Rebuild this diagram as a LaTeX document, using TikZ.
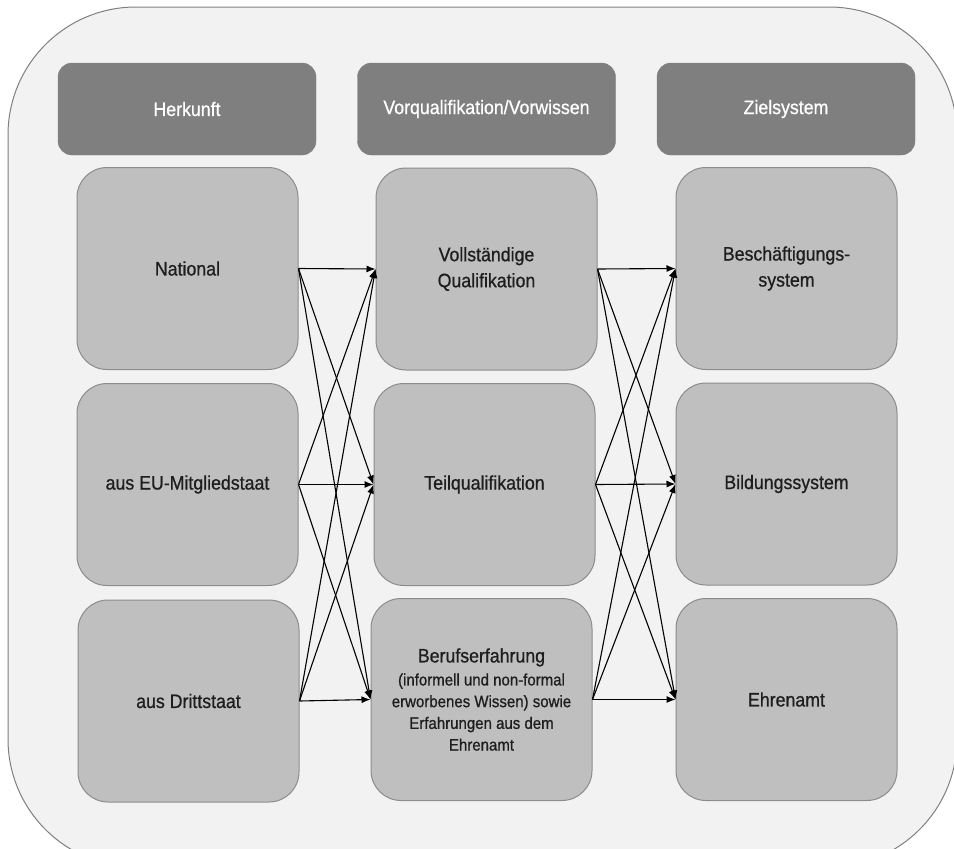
\documentclass[tikz,border=0pt]{standalone}
\usepackage{fontspec}
\setmainfont{Liberation Sans}[FakeStretch=0.91, FakeBold=0.8]
\usetikzlibrary{arrows.meta}
\definecolor{outerfill}{HTML}{F2F2F2}
\definecolor{outerline}{HTML}{7F7F7F}
\definecolor{headfill}{HTML}{7F7F7F}
\definecolor{boxfill}{HTML}{BFBFBF}
\definecolor{boxline}{HTML}{8C8C8C}
\definecolor{txt}{HTML}{1E1E1E}
\begin{document}
\begin{tikzpicture}[x=1pt,y=-1pt,
 header/.style={fill=headfill, draw=headfill, rounded corners=14pt, minimum width=258pt, minimum height=92pt, inner sep=0pt, text=white, font=\fontsize{19.5}{26}\selectfont},
 cell/.style={fill=boxfill, draw=boxline, line width=1pt, rounded corners=30pt, minimum width=221pt, minimum height=202pt, inner sep=0pt, text=txt, align=center, font=\fontsize{19.5}{26}\selectfont},
 subcell/.style={cell, font=\fontsize{16.5}{21.7}\selectfont},
 link/.style={draw=black, line width=1.1pt, -{Latex[length=9pt,width=7pt]}}]
\useasboundingbox (0,0) rectangle (954,849);
\clip (0,0) rectangle (954,849);
\draw[fill=outerfill, draw=outerline, line width=1pt, rounded corners=128pt] (8,7) rectangle (957,867);
% headers
\node[header] (h1) at (187,109) {Herkunft};
\node[header] (h2) at (486.5,109) {Vorqualifikation/Vorwissen};
\node[header] (h3) at (786,109) {Zielsystem};
% column 1
\node[cell] (a1) at (187.5,268.5) {National};
\node[cell] (a2) at (187.5,484.5) {aus EU-Mitgliedstaat};
\node[cell] (a3) at (188.5,701) {aus Drittstaat};
% column 2
\node[cell] (b1) at (486.5,269) {Vollständige\\Qualifikation};
\node[cell] (b2) at (484.5,484.5) {Teilqualifikation};
\node[subcell] (b3) at (481.5,699.5) {{\fontsize{19.5}{23}\selectfont Berufserfahrung}\\[1.3pt](informell und non-formal\\erworbenes Wissen) sowie\\Erfahrungen aus dem\\Ehrenamt};
% column 3
\node[cell] (c1) at (786.5,268.5) {Beschäftigungs-\\system};
\node[cell] (c2) at (786.5,484) {Bildungssystem};
\node[cell] (c3) at (786.5,699.5) {Ehrenamt};
% connectors
\foreach \s in {a1,a2,a3}
  \foreach \t in {b1,b2,b3}
    \draw[link] (\s.east) -- (\t.west);
\foreach \s in {b1,b2,b3}
  \foreach \t in {c1,c2,c3}
    \draw[link] (\s.east) -- (\t.west);
\end{tikzpicture}
\end{document}
